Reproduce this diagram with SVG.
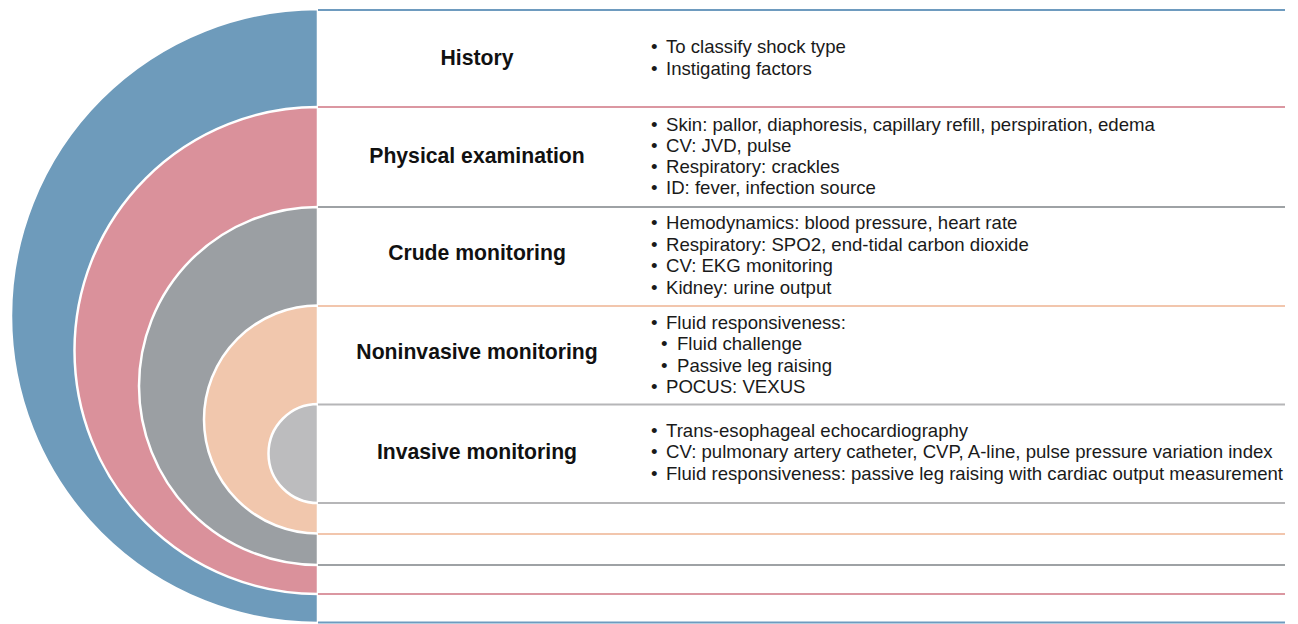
<svg xmlns="http://www.w3.org/2000/svg" width="1298" height="624" viewBox="0 0 1298 624">
  <style>
    .ring { stroke: #ffffff; stroke-width: 2.5; }
    .sep { stroke-width: 2.2; fill: none; }
    .label { font-family: "Liberation Sans", Arial, sans-serif; font-weight: bold; font-size: 21.2px; fill: #111111; text-anchor: middle; }
    .item { font-family: "Liberation Sans", Arial, sans-serif; font-size: 18.6px; fill: #1a1a1a; }
  </style>
  <rect x="0" y="0" width="1298" height="624" fill="#ffffff"/>

  <!-- nested half-discs -->
  <g id="rings">
    <path id="ring-history" class="ring" fill="#6e9bbb" d="M318,9 A307,307 0 0 0 318,623 Z"/>
    <path id="ring-physical" class="ring" fill="#da919b" d="M318,107 A243.5,243.5 0 0 0 318,594 Z"/>
    <path id="ring-crude" class="ring" fill="#9b9fa3" d="M318,207 A179,179 0 0 0 318,565 Z"/>
    <path id="ring-noninvasive" class="ring" fill="#f1c7ad" d="M318,305.5 A114,114 0 0 0 318,533.5 Z"/>
    <path id="ring-invasive" class="ring" fill="#bcbcbe" d="M318,404 A49.5,49.5 0 0 0 318,503 Z"/>
  </g>

  <!-- row separators -->
  <g id="connectors">
    <line class="sep" stroke="#6e9bbf" x1="318" y1="10" x2="1285" y2="10"/>
    <line class="sep" stroke="#db97a1" x1="318" y1="107" x2="1285" y2="107"/>
    <line class="sep" stroke="#9ea2a5" x1="318" y1="207" x2="1285" y2="207"/>
    <line class="sep" stroke="#f2c6ad" x1="318" y1="306" x2="1285" y2="306"/>
    <line class="sep" stroke="#b6b6b8" x1="318" y1="404.5" x2="1285" y2="404.5"/>
    <line class="sep" stroke="#b6b6b8" x1="318" y1="503" x2="1285" y2="503"/>
    <line class="sep" stroke="#f2c6ad" x1="318" y1="534" x2="1285" y2="534"/>
    <line class="sep" stroke="#9ea2a5" x1="318" y1="565" x2="1285" y2="565"/>
    <line class="sep" stroke="#db97a1" x1="318" y1="594" x2="1285" y2="594"/>
    <line class="sep" stroke="#6e9bbf" x1="318" y1="622.5" x2="1285" y2="622.5"/>
  </g>

  <g id="history">
    <text class="label" x="477" y="65">History</text>
    <text class="item" x="651" y="53">•</text><text class="item" x="666" y="53">To classify shock type</text>
    <text class="item" x="651" y="75">•</text><text class="item" x="666" y="75">Instigating factors</text>
  </g>

  <g id="physical-examination">
    <text class="label" x="477" y="163">Physical examination</text>
    <text class="item" x="651" y="131">•</text><text class="item" x="666" y="131">Skin: pallor, diaphoresis, capillary refill, perspiration, edema</text>
    <text class="item" x="651" y="152">•</text><text class="item" x="666" y="152">CV: JVD, pulse</text>
    <text class="item" x="651" y="173">•</text><text class="item" x="666" y="173">Respiratory: crackles</text>
    <text class="item" x="651" y="194">•</text><text class="item" x="666" y="194">ID: fever, infection source</text>
  </g>

  <g id="crude-monitoring">
    <text class="label" x="477" y="260">Crude monitoring</text>
    <text class="item" x="651" y="229">•</text><text class="item" x="666" y="229">Hemodynamics: blood pressure, heart rate</text>
    <text class="item" x="651" y="250.5">•</text><text class="item" x="666" y="250.5">Respiratory: SPO2, end-tidal carbon dioxide</text>
    <text class="item" x="651" y="272">•</text><text class="item" x="666" y="272">CV: EKG monitoring</text>
    <text class="item" x="651" y="293.5">•</text><text class="item" x="666" y="293.5">Kidney: urine output</text>
  </g>

  <g id="noninvasive-monitoring">
    <text class="label" x="477" y="359">Noninvasive monitoring</text>
    <text class="item" x="651" y="328.5">•</text><text class="item" x="666" y="328.5">Fluid responsiveness:</text>
    <text class="item" x="661" y="350">•</text><text class="item" x="677" y="350">Fluid challenge</text>
    <text class="item" x="661" y="371.5">•</text><text class="item" x="677" y="371.5">Passive leg raising</text>
    <text class="item" x="651" y="393">•</text><text class="item" x="666" y="393">POCUS: VEXUS</text>
  </g>

  <g id="invasive-monitoring">
    <text class="label" x="477" y="459">Invasive monitoring</text>
    <text class="item" x="651" y="437">•</text><text class="item" x="666" y="437">Trans-esophageal echocardiography</text>
    <text class="item" x="651" y="458">•</text><text class="item" x="666" y="458">CV: pulmonary artery catheter, CVP, A-line, pulse pressure variation index</text>
    <text class="item" x="651" y="479.5">•</text><text class="item" x="666" y="479.5">Fluid responsiveness: passive leg raising with cardiac output measurement</text>
  </g>
</svg>
